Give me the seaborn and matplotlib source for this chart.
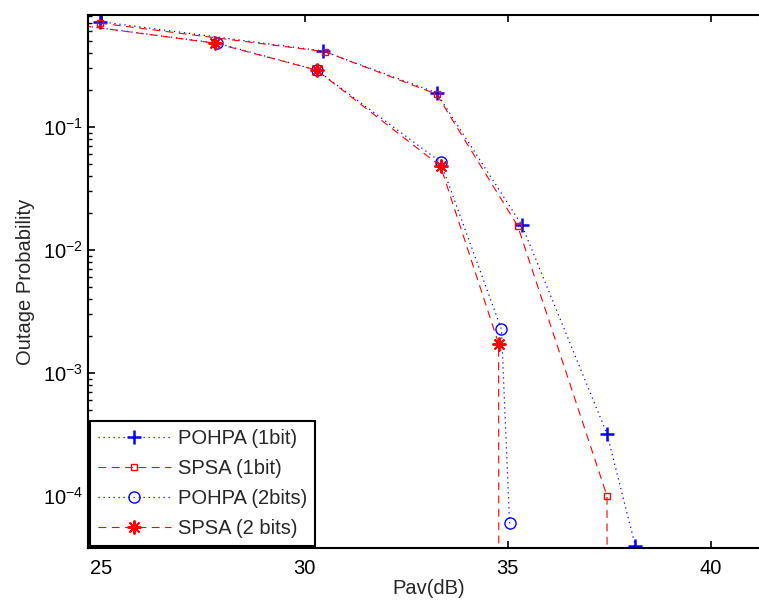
import numpy as np
import matplotlib
matplotlib.use("Agg")
import matplotlib.pyplot as plt
import seaborn as sns

# values (Pav in dB, outage probability)
pav_pohpa_1bit = [24.95, 30.45, 33.25, 35.35, 37.45, 38.15]
out_pohpa_1bit = [0.72, 0.415, 0.19, 0.016, 3.2e-4, 3.9e-5]

pav_spsa_1bit = [24.95, 30.5, 33.25, 35.25, 37.45, 37.47]
out_spsa_1bit = [0.70, 0.41, 0.185, 0.0157, 1.0e-4, 1e-20]

pav_pohpa_2bit = [23.9, 27.85, 30.3, 33.35, 34.85, 35.05]
out_pohpa_2bit = [0.71, 0.48, 0.29, 0.052, 2.26e-3, 6.0e-5]

pav_spsa_2bit = [23.9, 27.8, 30.3, 33.35, 34.78, 34.82]
out_spsa_2bit = [0.71, 0.48, 0.29, 0.048, 1.73e-3, 1e-20]

sns.set_style("ticks")
plt.rcParams["font.family"] = ["Liberation Sans", "DejaVu Sans"]
plt.rcParams["mathtext.default"] = "regular"

fig = plt.figure(figsize=(7.59, 6.03), dpi=100)
ax = fig.add_axes([88 / 759, 55 / 603, 682 / 759, 533 / 603])
ax.set_yscale("log")

dash = (0, (7, 5))
dots = (0, (1, 3))
sns.lineplot(x=pav_pohpa_1bit, y=out_pohpa_1bit, ax=ax, sort=False, estimator=None,
             color="blue", linestyle=dots, linewidth=0.9, marker="+", markersize=10,
             markeredgecolor="blue", markeredgewidth=1.8, label="POHPA (1bit)")
sns.lineplot(x=pav_spsa_1bit, y=out_spsa_1bit, ax=ax, sort=False, estimator=None,
             color="red", linestyle=dash, linewidth=0.8, marker="s", markersize=5,
             markerfacecolor="none", markeredgecolor="red", markeredgewidth=1.0,
             label="SPSA (1bit)")
sns.lineplot(x=pav_pohpa_2bit, y=out_pohpa_2bit, ax=ax, sort=False, estimator=None,
             color="blue", linestyle=dots, linewidth=0.9, marker="o", markersize=8,
             markerfacecolor="none", markeredgecolor="blue", markeredgewidth=1.0,
             label="POHPA (2bits)")
sns.lineplot(x=pav_spsa_2bit, y=out_spsa_2bit, ax=ax, sort=False, estimator=None,
             color="red", linestyle=dash, linewidth=0.8, marker=(8, 2, 0),
             markersize=10, markeredgecolor="red", markeredgewidth=1.4,
             label="SPSA (2 bits)")

ax.set_xlim(24.665, 41.465)
ax.set_ylim(3.78e-5, 0.814)
ax.set_xticks([25, 30, 35, 40])
ax.set_yticks([1e-4, 1e-3, 1e-2, 1e-1])

for s in ["left", "top", "bottom"]:
    ax.spines[s].set_linewidth(1.5)
    ax.spines[s].set_color("black")
ax.spines["right"].set_visible(False)
ax.tick_params(which="both", direction="in", top=True, right=False, colors="black",
               labelsize=14.5)
ax.tick_params(which="major", length=5, width=1.2)
ax.tick_params(which="minor", length=3, width=1.0)
ax.tick_params(axis="x", pad=8)

ax.set_xlabel("Pav(dB)", fontsize=14.5, labelpad=1)
ax.set_ylabel("Outage Probability", fontsize=14.5, labelpad=6)

leg = ax.legend(loc="lower left", bbox_to_anchor=(0.003, 0.003), borderaxespad=0,
                fontsize=14.5, fancybox=False, framealpha=1, edgecolor="black",
                handlelength=3.6, handletextpad=0.35, labelspacing=0.55,
                borderpad=0.4, numpoints=1)
leg.get_frame().set_linewidth(1.5)

plt.savefig("out.png", dpi=100)
